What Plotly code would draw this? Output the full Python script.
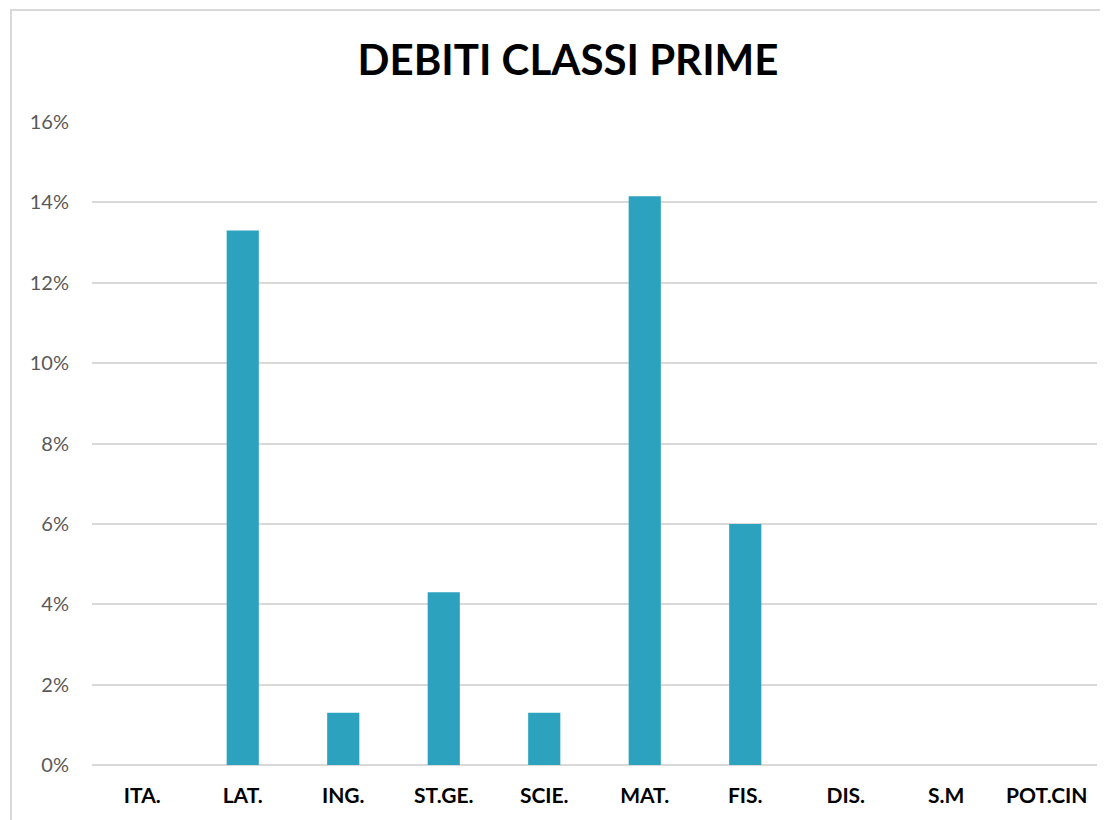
import plotly.graph_objects as go

categories = ["ITA.", "LAT.", "ING.", "ST.GE.", "SCIE.", "MAT.", "FIS.", "DIS.", "S.M", "POT.CIN"]
values = [0.0, 0.133, 0.013, 0.043, 0.013, 0.1415, 0.060, 0.0, 0.0, 0.0]
y_ticks = [0, 0.02, 0.04, 0.06, 0.08, 0.10, 0.12, 0.14, 0.16]
y_labels = ["0%", "2%", "4%", "6%", "8%", "10%", "12%", "14%", "16%"]
title_text = "DEBITI CLASSI PRIME"

# page body has an 8px margin; figure coordinates are offset by 8px
OFF = 8
W, H = 1100, 812
ml, mr, mt, mb = 92 - OFF, 11, 122 - OFF, 55
pw, ph = W - ml - mr, H - mt - mb

fig = go.Figure(go.Bar(x=categories, y=values, marker=dict(color="#2CA2BF", line=dict(width=0))))

def px_to_paper_x(px):
    return (px - OFF - ml) / pw

def px_to_paper_y(py):
    return (H - mb - (py - OFF)) / ph

fig.update_layout(
    width=W, height=H,
    margin=dict(l=ml, r=mr, t=mt, b=mb),
    paper_bgcolor="white", plot_bgcolor="white",
    bargap=0.68,
    showlegend=False,
    title=dict(text="<b>" + title_text + "</b>", x=(568 - OFF) / W, xanchor="center",
               y=1 - (60 - OFF) / H, yanchor="middle",
               font=dict(family="Lato, Open Sans, sans-serif", size=42, color="#000000")),
    xaxis=dict(tickfont=dict(family="Lato, Open Sans, sans-serif", size=21, color="#000000", weight="bold"),
               showgrid=False, showline=False, ticks="", ticklabelstandoff=16),
    yaxis=dict(range=[0, 0.16], tickvals=y_ticks, ticktext=y_labels,
               tickfont=dict(family="Lato, Open Sans, sans-serif", size=20, color="#595959"),
               showgrid=True, gridcolor="#D9D9D9", gridwidth=2, zeroline=True,
               zerolinecolor="#D9D9D9", zerolinewidth=2, ticks="", ticklabelstandoff=22,
               showline=False),
    shapes=[dict(type="rect", xref="paper", yref="paper",
                 x0=px_to_paper_x(11), x1=px_to_paper_x(1125),
                 y0=px_to_paper_y(840), y1=px_to_paper_y(10),
                 line=dict(color="#D9D9D9", width=2), fillcolor="rgba(0,0,0,0)", layer="below")],
)

fig.write_html("out.html")
